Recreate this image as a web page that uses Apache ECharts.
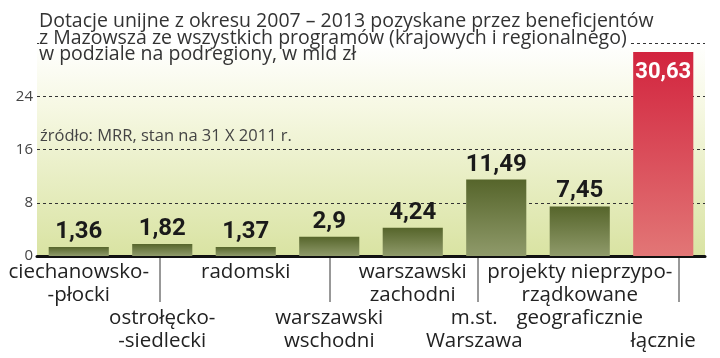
<!DOCTYPE html>
<html><head><meta charset="utf-8">
<script src="https://cdn.jsdelivr.net/npm/echarts@6/dist/echarts.min.js"></script>
<style>html,body{margin:0;padding:0;background:#fff}#c{width:720px;height:358px}</style>
</head><body><div id="c"></div>
<script>
var categories = ['ciechanowsko-\n-płocki','ostrołęcko-\n-siedlecki','radomski','warszawski\nwschodni','warszawski\nzachodni','m.st.\nWarszawa','projekty nieprzypo-\nrządkowane\ngeograficznie','łącznie'];
var values = [1.36, 1.82, 1.37, 2.9, 4.24, 11.49, 7.45, 30.63];
var yTicks = [0, 8, 16, 24];
var titleLines = ['Dotacje unijne z okresu 2007 – 2013 pozyskane przez beneficjentów','z Mazowsza ze wszystkich programów (krajowych i regionalnego)','w podziale na podregiony, w mld zł'];
var sourceText = 'źródło: MRR, stan na 31 X 2011 r.';

var FONT = '"Open Sans", "Noto Sans", sans-serif';
var NUMFONT = 'Roboto, "Liberation Sans", sans-serif';
var fmt = function(v){ return String(v).replace('.', ','); };
var totalIdx = values.length - 1;

var green = new echarts.graphic.LinearGradient(0,0,0,1,[{offset:0,color:'#56652b'},{offset:1,color:'#8f9a6a'}]);
var red = new echarts.graphic.LinearGradient(0,0,0,1,[{offset:0,color:'#d2243e'},{offset:1,color:'#e27676'}]);

var titles = titleLines.map(function(t,i){
  return {text:t, left:39, top:13 + i*16.5, padding:[0,3,0,0], z: (i === 1 ? 6 : 8),
    backgroundColor: (i === 1 ? '#fff' : 'transparent'),
    textStyle:{fontFamily:FONT, fontSize:19.5, fontWeight:'normal', color:'#333', lineHeight:17}};
});
titles.push({text:sourceText, left:40, top:128, padding:0,
  textStyle:{fontFamily:FONT, fontSize:16.5, fontWeight:'normal', color:'#444'}});

var chart = echarts.init(document.getElementById('c'), null, {renderer:'canvas'});
chart.setOption({
  animation:false,
  title: titles,
  grid:{left:37, right:15, top:43, bottom:102, show:true, borderWidth:0,
    backgroundColor:new echarts.graphic.LinearGradient(0,0,0,1,[{offset:0,color:'#ffffff'},{offset:0.3,color:'#f6f8e3'},{offset:1,color:'#d9e3a2'}])},
  xAxis:{type:'category', data:categories,
    axisLine:{lineStyle:{color:'#111', width:3}},
    axisTick:{show:false},
    axisLabel:{interval:0, margin:5, color:'#222', fontFamily:FONT, fontSize:20.5, lineHeight:23,
      formatter:function(v, i){
        var lines = v.split('\n');
        var pre = '';
        if (i % 2 === 1) { for (var k = lines.length; k < 4; k++) pre += '\n'; }
        var sty = (i === 5) ? 'shift' : 'n';
        return pre + lines.map(function(l){return '{'+sty+'|'+l+'}';}).join('\n');
      },
      rich:{n:{fontFamily:FONT, fontSize:20.5, lineHeight:23, color:'#222'},
            shift:{fontFamily:FONT, fontSize:20.5, lineHeight:23, color:'#222', padding:[0,44,0,0]}}
    }
  },
  yAxis:{type:'value', min:0, max:32, interval:8,
    axisLine:{show:false}, axisTick:{show:false},
    axisLabel:{margin:4, color:'#444', fontFamily:FONT, fontSize:15,
      formatter:function(v){ return yTicks.indexOf(v) >= 0 ? String(v) : ''; }},
    splitLine:{lineStyle:{color:'#333', width:1, type:[3,3]}}
  },
  series:[{type:'bar', data:values.map(function(v,i){
      return {value:v, itemStyle:{color: i===totalIdx ? red : green},
        label: i===totalIdx ? {position:'insideTop', distance:9, color:'#fff', fontSize:22} : {}};
    }),
    barCategoryGap:'28%',
    label:{show:true, position:'top', distance:3, color:'#1a1a1a', fontFamily:NUMFONT, fontWeight:'bold', fontSize:24,
      formatter:function(p){ return fmt(p.value); }}
  }],
  graphic:[160,330,478,679].map(function(x){
    return {type:'line', shape:{x1:x, y1:258, x2:x, y2:302}, style:{stroke:'#333', lineWidth:1}};
  })
});
</script></body></html>
